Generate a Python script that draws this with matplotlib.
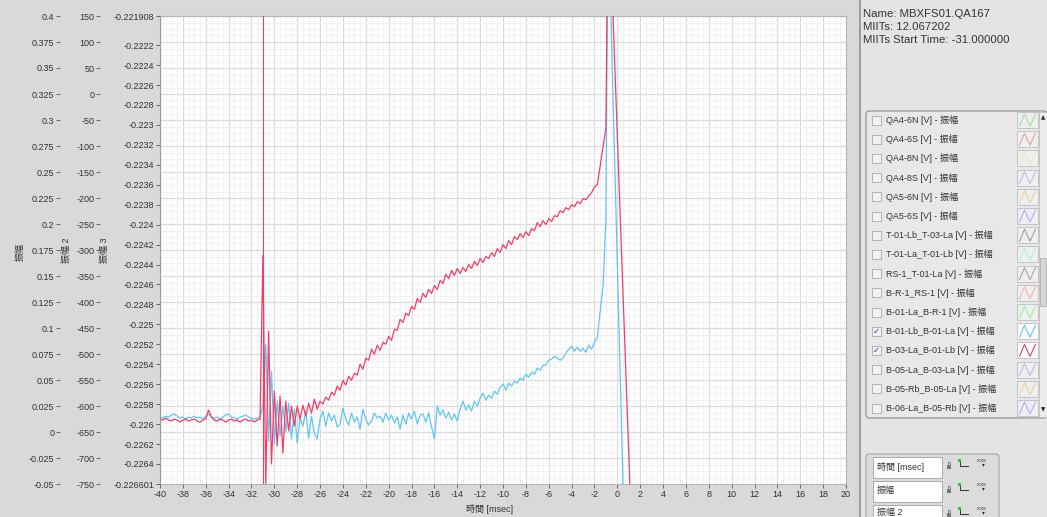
import numpy as np
import matplotlib.pyplot as plt
from matplotlib.patches import Rectangle, FancyBboxPatch
from matplotlib.ticker import MultipleLocator, AutoMinorLocator, FixedLocator, FuncFormatter

plt.rcParams['font.family'] = ['Liberation Sans', 'Noto Sans CJK JP', 'DejaVu Sans']
plt.rcParams['axes.unicode_minus'] = False

# ---- data ----
t0 = -40.0
dt = 0.25

blue = [-0.22593, -0.22594, -0.22592, -0.22593, -0.22591, -0.22590, -0.22592, -0.22594, -0.22593,
        -0.22595, -0.22593, -0.22594, -0.22592, -0.22594, -0.22593, -0.22595, -0.22592, -0.22590,
        -0.22593, -0.22594, -0.22593, -0.22595, -0.22593, -0.22591, -0.22590, -0.22593, -0.22594,
        -0.22595, -0.22593, -0.22592, -0.22591, -0.22593, -0.22594, -0.22595, -0.22594, -0.22593,
        # -31 .. -26
        -0.22582, -0.22520, -0.22617, -0.22547, -0.22620, -0.22577, -0.22612, -0.22582, -0.22607,
        -0.22579, -0.22615, -0.22585, -0.22619, -0.22594, -0.22602, -0.22587, -0.22614, -0.22592,
        -0.22609, -0.22615, -0.22595,
        # -25.75 .. -14
        -0.22587, -0.22602, -0.22589, -0.22597, -0.22591, -0.22603, -0.22600, -0.22584, -0.22595,
        -0.22601, -0.22589, -0.22598, -0.22593, -0.22605, -0.22585, -0.22595, -0.22601, -0.22597,
        -0.22589, -0.22594, -0.22592, -0.22598, -0.22589, -0.22596, -0.22591, -0.22599, -0.22593,
        -0.22605, -0.22591, -0.22600, -0.22589, -0.22595, -0.22587, -0.22600, -0.22591, -0.22590,
        -0.22598, -0.22589, -0.22603, -0.22615, -0.22582, -0.22591, -0.22586, -0.22594, -0.22588,
        -0.22596, -0.22590, -0.22597,
        # -13.75 .. -1
        -0.22585, -0.22577, -0.22586, -0.22581, -0.22587, -0.22577, -0.22582, -0.22574, -0.22569,
        -0.22576, -0.22571, -0.22574, -0.22567, -0.22570, -0.22563, -0.22560, -0.22566, -0.22559,
        -0.22562, -0.22557, -0.22559, -0.22554, -0.22556, -0.22550, -0.22553, -0.22548, -0.22550,
        -0.22544, -0.22546, -0.22541, -0.22541, -0.22536, -0.22535, -0.22532, -0.22534, -0.22536,
        -0.22534, -0.22529, -0.22525, -0.22522, -0.22527, -0.22523, -0.22527, -0.22524, -0.22528,
        -0.22521, -0.22525, -0.22518, -0.22513, -0.22487, -0.22461, -0.22396]
blue_tail_t = [-0.85, -0.7, 0.6]
blue_tail_v = [-0.22129, -0.22129, -0.22706]

red = [-0.22595, -0.22596, -0.22594, -0.22596, -0.22597, -0.22595, -0.22596, -0.22598, -0.22596,
       -0.22595, -0.22597, -0.22596, -0.22595, -0.22597, -0.22598, -0.22596, -0.22595, -0.22586,
       -0.22593, -0.22596, -0.22597, -0.22595, -0.22596, -0.22598, -0.22596, -0.22595, -0.22597,
       -0.22596, -0.22598, -0.22596, -0.22595, -0.22597, -0.22596, -0.22598, -0.22596, -0.22595,
       # -31 .. -26
       -0.22431, -0.22661, -0.22507, -0.22640, -0.22567, -0.22622, -0.22572, -0.22629, -0.22577,
       -0.22607, -0.22582, -0.22602, -0.22582, -0.22595, -0.22581, -0.22592, -0.22579, -0.22589,
       -0.22575, -0.22585, -0.22577,
       # -25.75 .. -1
       -0.22580, -0.22573, -0.22576, -0.22568, -0.22571, -0.22562, -0.22566, -0.22556, -0.22561,
       -0.22552, -0.22556, -0.22549, -0.22551, -0.22540, -0.22545, -0.22534, -0.22536, -0.22525,
       -0.22530, -0.22521, -0.22526, -0.22518, -0.22520, -0.22512, -0.22516, -0.22505, -0.22506,
       -0.22495, -0.22498, -0.22489, -0.22491, -0.22482, -0.22485, -0.22474, -0.22478, -0.22469,
       -0.22473, -0.22465, -0.22469, -0.22461, -0.22465, -0.22456, -0.22459, -0.22450, -0.22454,
       -0.22446, -0.22451, -0.22444, -0.22449, -0.22443, -0.22447, -0.22440, -0.22444, -0.22437,
       -0.22441, -0.22434, -0.22438, -0.22432, -0.22434, -0.22428, -0.22432, -0.22424, -0.22428,
       -0.22420, -0.22424, -0.22416, -0.22420, -0.22412, -0.22415, -0.22409, -0.22413, -0.22407,
       -0.22411, -0.22404, -0.22406, -0.22398, -0.22402, -0.22396, -0.22400, -0.22394, -0.22397,
       -0.22391, -0.22392, -0.22386, -0.22388, -0.22383, -0.22385, -0.22380, -0.22382, -0.22377,
       -0.22379, -0.22374, -0.22375, -0.22371, -0.22368, -0.22362, -0.22360, -0.22341, -0.22322,
       -0.22304]
red_tail_t = [-0.85, -0.6, 1.2]
red_tail_v = [-0.2212, -0.2212, -0.22693]

miits_start = -31.0

y3_ticks = [-0.221908, -0.2222, -0.2224, -0.2226, -0.2228, -0.223, -0.2232, -0.2234, -0.2236,
            -0.2238, -0.224, -0.2242, -0.2244, -0.2246, -0.2248, -0.225, -0.2252, -0.2254,
            -0.2256, -0.2258, -0.226, -0.2262, -0.2264, -0.226601]

names = ['QA4-6N', 'QA4-6S', 'QA4-8N', 'QA4-8S', 'QA5-6N', 'QA5-6S',
         'T-01-Lb_T-03-La', 'T-01-La_T-01-Lb', 'RS-1_T-01-La', 'B-R-1_RS-1',
         'B-01-La_B-R-1', 'B-01-Lb_B-01-La', 'B-03-La_B-01-Lb', 'B-05-La_B-03-La',
         'B-05-Rb_B-05-La', 'B-06-La_B-05-Rb']
name_colors = ['#9fe09f', '#f0a0a0', '#dcefc0', '#d4b4f0', '#f0cf9c', '#b0b0f2',
               '#a0a0a0', '#aeeee6', '#a4a4a4', '#f2b2b2', '#a2eea2', '#5cc4f5',
               '#f43c64', '#d4b0f0', '#f0cf9c', '#b0b0f2']
checked = [False] * 11 + [True, True] + [False] * 3

c_blue = '#5ec5f5'
c_red = '#f43c64'

# ---- figure ----
W, H = 1047, 517
fig = plt.figure(figsize=(W / 100, H / 100), dpi=100, facecolor='#d9d9d9')

def fx(x):
    return x / W

def fy(y):
    return 1 - y / H

L, R, T, B = 160, 846, 16, 484
rect = [fx(L), fy(B), (R - L) / W, (B - T) / H]
PT = 0.72  # points per pixel at 100 dpi

# background panels, in pixel coordinates
ov = fig.add_axes([0, 0, 1, 1], zorder=-1)
ov.set_xlim(0, W)
ov.set_ylim(H, 0)
ov.axis('off')
ov.add_patch(Rectangle((860, 0), 187, 517, fc='#e4e4e4', ec='none'))
ov.plot([860, 860], [0, 517], color='#9c9c9c', lw=1.4)

ov.text(863, 14, 'Name: MBXFS01.QA167', fontsize=8.2, va='center', color='#333333')
ov.text(863, 27, 'MIITs: 12.067202', fontsize=8.2, va='center', color='#333333')
ov.text(863, 40, 'MIITs Start Time: -31.000000', fontsize=8.2, va='center', color='#333333')

# legend list
ov.add_patch(FancyBboxPatch((866, 111), 181, 307, boxstyle='round,pad=0,rounding_size=3',
                            fc='#e8e8e8', ec='#8c8c8c', lw=0.8))
ov.add_patch(Rectangle((1039, 112), 8, 305, fc='#ececec', ec='#b8b8b8', lw=0.5))
ov.add_patch(Rectangle((1040, 258), 6, 48, fc='#d6d6d6', ec='#aaaaaa', lw=0.5))
ov.text(1043, 118, '▲', fontsize=4, ha='center', va='center', color='#222222', family='DejaVu Sans')
ov.text(1043, 410, '▼', fontsize=4, ha='center', va='center', color='#222222', family='DejaVu Sans')
for i, (nm, c, ck) in enumerate(zip(names, name_colors, checked)):
    y = 120 + 19.2 * i
    ov.add_patch(Rectangle((872, y - 4.5), 9, 9, fc='#f2f2f2', ec='#a8a8a8', lw=0.6))
    if ck:
        ov.text(876.5, y, '✓', fontsize=6, ha='center', va='center', color='#2a3f9a',
                family='DejaVu Sans')
    ov.text(886, y, nm + ' [V] - 振幅', fontsize=6.5, va='center', color='#333333')
    ov.add_patch(Rectangle((1017, y - 8), 21, 16, fc='white' if ck else '#efefef',
                           ec='#bdbdbd', lw=0.6))
    ov.plot([1019.5, 1024.5, 1030, 1035.5], [y + 6, y - 6, y + 6, y - 6], color=c, lw=0.8)

# axis-settings panel (bottom right)
ov.add_patch(FancyBboxPatch((866, 454), 133, 70, boxstyle='round,pad=0,rounding_size=3',
                            fc='#dcdcdc', ec='#a8a8a8', lw=0.8))
for yb, hb, lab in [(457, 21, '時間 [msec]'), (481, 21, '振幅'), (505, 16, '振幅 2')]:
    ov.add_patch(Rectangle((873, yb), 69, hb, fc='white', ec='#a0a0a0', lw=0.6))
    ov.text(877, yb + 10 if hb > 20 else yb + 7, lab, fontsize=6.5, va='center', color='#333333')
    ov.add_patch(Rectangle((946.5, yb + 7.5), 4.5, 4, fc='#777777', ec='none'))
    ov.plot([947.5, 947.5, 950, 950], [yb + 7.5, yb + 5, yb + 5, yb + 7.5], color='#777777', lw=0.6)
    ov.plot([960, 960, 968], [yb + 3, yb + 9, yb + 9], color='#333333', lw=0.7)
    ov.plot([959], [yb + 3], marker='o', ms=1.5, color='#33cc33')
    ov.text(982, yb + 4, 'x.xx', fontsize=4, ha='center', va='center', color='#333333')
    ov.text(983, yb + 8, '▾', fontsize=4, ha='center', va='center', color='#333333',
            family='DejaVu Sans')

tick_kw = dict(labelsize=6.5, labelcolor='#333333', color='#666666', length=3, width=0.7, pad=1)

# base axes: 振幅 scale + grid
ax1 = fig.add_axes(rect)
ax1.set_facecolor('white')
ax1.set_xlim(-40, 20)
ax1.set_ylim(-0.05, 0.4)
ax1.xaxis.set_major_locator(MultipleLocator(2))
ax1.xaxis.set_minor_locator(AutoMinorLocator(4))
ax1.yaxis.set_major_locator(MultipleLocator(0.025))
ax1.yaxis.set_minor_locator(AutoMinorLocator(4))
ax1.yaxis.set_major_formatter(FuncFormatter(lambda v, p: f'{round(v, 6) + 0:g}'))
ax1.grid(which='major', color='#dadada', lw=0.8)
ax1.grid(which='minor', color='#f0f0f0', lw=0.6)
ax1.set_axisbelow(True)
ax1.spines['left'].set_position(('outward', 100 * PT))
ax1.spines['left'].set_visible(False)
for s in ['top', 'right', 'bottom']:
    ax1.spines[s].set_color('#b4b4b4')
ax1.tick_params(which='minor', length=0)
ax1.tick_params(which='major', **tick_kw)

# 振幅 2 scale
ax2 = ax1.twinx()
ax2.set_ylim(-750, 150)
ax2.yaxis.set_major_locator(MultipleLocator(50))
ax2.yaxis.set_ticks_position('left')
ax2.spines['left'].set_position(('outward', 60 * PT))
for s in ax2.spines.values():
    s.set_visible(False)
ax2.tick_params(**tick_kw)

# 振幅 3 scale with the data
ax3 = ax1.twinx()
ax3.set_ylim(-0.226601, -0.221908)
ax3.yaxis.set_ticks_position('left')
ax3.yaxis.set_major_locator(FixedLocator(y3_ticks))
ax3.yaxis.set_major_formatter(FuncFormatter(lambda v, p: f'{v:g}'))
for s in ['top', 'right', 'bottom']:
    ax3.spines[s].set_visible(False)
ax3.spines['left'].set_color('#9a9a9a')
ax3.tick_params(**tick_kw)

tb = list(t0 + dt * np.arange(len(blue))) + blue_tail_t
tr = list(t0 + dt * np.arange(len(red))) + red_tail_t
ax3.plot(tb, blue + blue_tail_v, color=c_blue, lw=0.9)
ax3.plot(tr, red + red_tail_v, color=c_red, lw=0.9)
ax3.axvline(miits_start, color=c_red, lw=0.8)

# axis titles
fig.text(fx(490), fy(509), '時間 [msec]', fontsize=6.5, ha='center', va='center', color='#333333')
fig.text(fx(20), fy(252), '振幅', fontsize=6.5, rotation=90, ha='center', va='center', color='#333333')
fig.text(fx(67), fy(250), '振幅 2', fontsize=6.5, rotation=90, ha='center', va='center', color='#333333')
fig.text(fx(105), fy(250), '振幅 3', fontsize=6.5, rotation=90, ha='center', va='center', color='#333333')

fig.savefig('out.png', dpi=100, facecolor=fig.get_facecolor())
